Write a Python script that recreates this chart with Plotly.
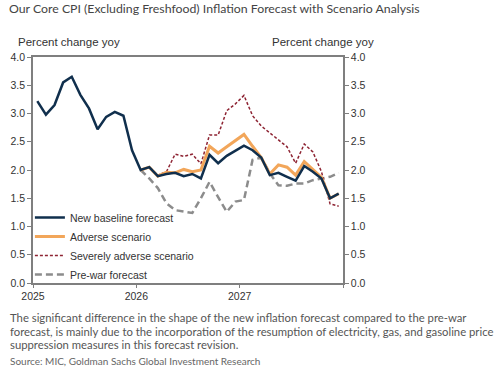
import plotly.graph_objects as go

months = list(range(36))  # Jan 2025 .. Dec 2027 (month index)

baseline = [3.22, 2.98, 3.15, 3.55, 3.65, 3.33, 3.09, 2.72, 2.94, 3.03, 2.96, 2.35,
            2.00, 2.05, 1.89, 1.93, 1.95, 1.89, 1.93, 1.85, 2.27, 2.12, 2.25, 2.34,
            2.43, 2.35, 2.22, 1.91, 1.95, 1.88, 1.81, 2.07, 1.97, 1.85, 1.50, 1.58]
adverse = [None]*12 + [2.00, 2.05, 1.89, 1.96, 1.95, 2.01, 1.97, 2.00, 2.42, 2.30, 2.41, 2.52,
                       2.63, 2.42, 2.22, 1.93, 2.09, 2.05, 1.91, 2.15, 2.01, 1.87, 1.50, 1.58]
severe = [None]*12 + [2.00, 2.05, 1.91, 1.97, 2.28, 2.24, 2.28, 2.11, 2.62, 2.62, 3.05, 3.17,
                      3.32, 2.96, 2.78, 2.66, 2.53, 2.41, 2.12, 2.46, 2.32, 1.97, 1.40, 1.36]
prewar = [None]*12 + [2.00, 1.85, 1.68, 1.41, 1.29, 1.27, 1.24, 1.50, 1.79, 1.52, 1.26, 1.44,
                      1.47, 2.18, 2.22, 1.94, 1.73, 1.72, 1.76, 1.76, 1.82, 1.85, 1.88, 1.95]

year_ticks = [0, 12, 24, 36]
year_labels = ["2025", "2026", "2027", ""]
y_ticks = [0.0, 0.5, 1.0, 1.5, 2.0, 2.5, 3.0, 3.5, 4.0]

x = [m + 0.5 for m in months]

fig = go.Figure()
fig.add_trace(go.Scatter(x=x, y=prewar, name="Pre-war forecast", mode="lines",
                         line=dict(color="#8c8c8c", width=2.5, dash="7px,4px")))
fig.add_trace(go.Scatter(x=x, y=severe, name="Severely adverse scenario", mode="lines",
                         line=dict(color="#8e2433", width=1.5, dash="3px,2px")))
fig.add_trace(go.Scatter(x=x, y=adverse, name="Adverse scenario", mode="lines",
                         line=dict(color="#f2a65a", width=3)))
fig.add_trace(go.Scatter(x=x, y=baseline, name="New baseline forecast", mode="lines",
                         line=dict(color="#102f4d", width=2.5)))
# invisible trace on right axis
fig.add_trace(go.Scatter(x=[x[0]], y=[None], yaxis="y2", showlegend=False, hoverinfo="skip"))

axis_font = dict(family="Liberation Sans, Arial", size=10.5, color="#333333")

fig.update_layout(
    width=500, height=374,
    margin=dict(l=33, r=157, t=57, b=91),
    paper_bgcolor="white", plot_bgcolor="white",
    font=axis_font,
    showlegend=True,
    legend=dict(x=-0.01, y=0.354, xanchor="left", yanchor="top",
                traceorder="reversed", bgcolor="rgba(0,0,0,0)",
                font=dict(family="Liberation Sans, Arial", size=10.5, color="#333333"),
                tracegroupgap=0, itemwidth=30),
    xaxis=dict(range=[0, 36], tickvals=year_ticks, ticktext=year_labels,
               showgrid=False, zeroline=False, showline=True, linecolor="#7f7f7f",
               linewidth=1.5, mirror=True, ticks="outside", ticklen=3,
               tickcolor="#7f7f7f", tickfont=axis_font),
    yaxis=dict(range=[0, 4], tickvals=y_ticks, tickformat=".1f",
               showgrid=False, zeroline=False, showline=True, linecolor="#7f7f7f",
               linewidth=1.5, ticks="outside", ticklen=4, tickcolor="#7f7f7f",
               tickfont=axis_font),
    yaxis2=dict(range=[0, 4], tickvals=y_ticks, tickformat=".1f", overlaying="y",
                side="right", showgrid=False, zeroline=False, showline=True,
                linecolor="#7f7f7f", linewidth=1.5, ticks="outside", ticklen=4,
                tickcolor="#7f7f7f", tickfont=axis_font),
)

def py(p):
    return (283 - p) / 226.0

def px(p):
    return (p - 33) / 310.0

text_font = "Lato, Open Sans, sans-serif"
title_axis_font = dict(family="Liberation Sans, Arial", size=11.5, color="#333333")
cap_font = dict(family=text_font, size=11.3, color="#555555")
anns = [
    dict(text="Our Core CPI (Excluding Freshfood) Inflation Forecast with Scenario Analysis",
         x=px(7), y=py(9), font=dict(family=text_font, size=12.3, color="#444444")),
    dict(text="Percent change yoy", x=px(16), y=py(42), font=title_axis_font),
    dict(text="Percent change yoy", x=px(270), y=py(42), font=title_axis_font),
    dict(text="The significant difference in the shape of the new inflation forecast compared to the pre-war",
         x=px(8), y=py(317), font=cap_font),
    dict(text="forecast, is mainly due to the incorporation of the resumption of electricity, gas, and gasoline price",
         x=px(8), y=py(331), font=cap_font),
    dict(text="suppression measures in this forecast revision.",
         x=px(8), y=py(344), font=cap_font),
    dict(text="Source: MIC, Goldman Sachs Global Investment Research",
         x=px(8), y=py(361), font=dict(family=text_font, size=10, color="#666666")),
]
for a in anns:
    fig.add_annotation(xref="paper", yref="paper", xanchor="left", yanchor="middle",
                       showarrow=False, **a)

fig.write_html("out.html", config={"displayModeBar": False},
               post_script="document.body.style.margin='0px';")
